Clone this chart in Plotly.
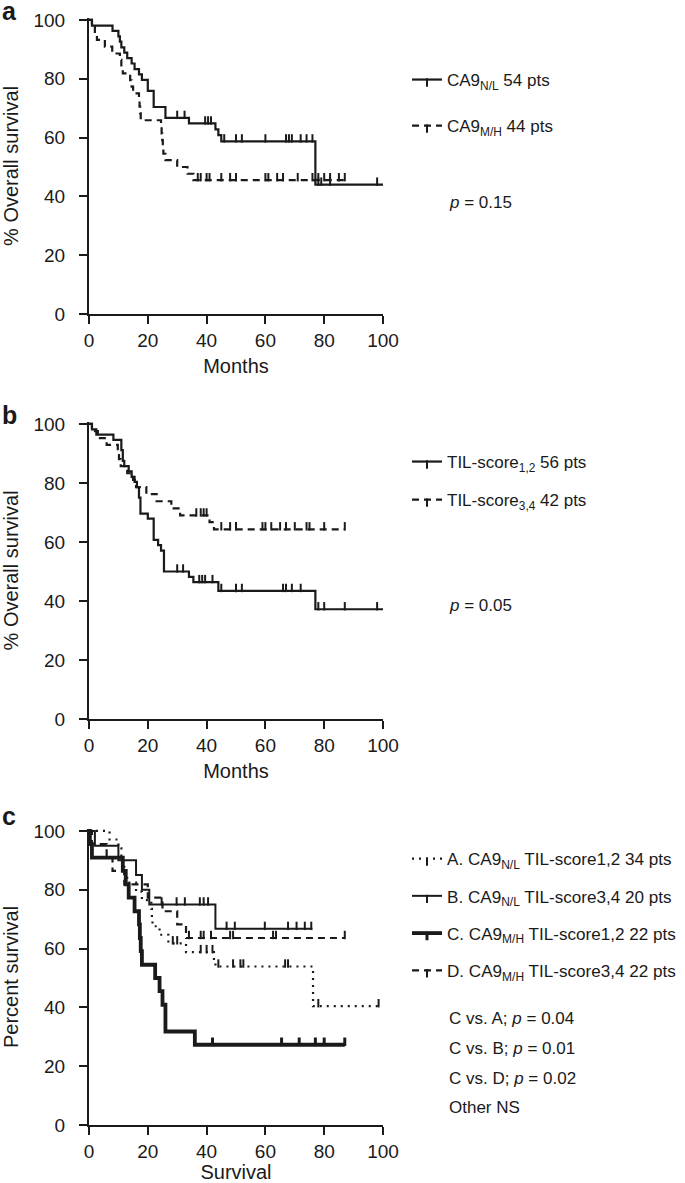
import plotly.graph_objects as go

# ---------------- data ----------------
# Panel a: CA9 expression
a_nl_times = [1, 8, 10, 10.5, 11, 12, 13, 14.5, 15.5, 17, 18, 20, 22, 26, 34, 43, 44, 45, 77]
a_nl_surv = [98.1, 96.3, 94.4, 92.6, 90.7, 88.9, 87.0, 85.2, 83.3, 81.5, 79.6, 75.9, 70.4, 66.7, 64.8, 62.8, 60.8, 58.7, 44.0]
a_nl_end = 100
a_nl_cens = [30, 32.5, 39.5, 40.5, 41.5, 46, 50, 52, 60, 67, 68, 69, 72, 74, 76, 78, 79, 82, 98]

a_mh_times = [1, 2, 2.7, 5.4, 7.9, 10.5, 11, 11.5, 14, 14.5, 15, 17, 17.2, 17.4, 17.6, 24.5, 24.7, 24.9, 25.1, 25.3, 26, 30, 33.5, 35.5]
a_mh_surv = [97.7, 95.5, 93.2, 90.9, 88.6, 86.4, 84.1, 81.8, 79.5, 77.3, 75.0, 72.7, 70.5, 68.2, 65.9, 63.6, 61.4, 59.1, 56.8, 54.5, 52.3, 50.0, 47.7, 45.5]
a_mh_end = 87
a_mh_cens = [37, 38, 40, 41, 45, 48, 50, 60, 61, 64, 66, 71, 76, 78, 80, 82, 85, 87]

# Panel b: TIL score
b_12_times = [1, 2.5, 8.3, 11, 11.5, 12, 13.5, 14.5, 15.5, 16.3, 17, 17.5, 20, 22, 23.5, 24.5, 25.5, 34, 35.5, 44, 77]
b_12_surv = [98.2, 96.4, 94.6, 91.1, 87.5, 85.7, 83.9, 82.1, 80.4, 78.6, 75.0, 69.6, 67.9, 60.7, 58.9, 57.1, 50.0, 48.2, 46.4, 43.4, 37.2]
b_12_end = 100
b_12_cens = [30, 32, 37.5, 38.5, 39.5, 42, 45, 50, 52, 66, 67, 69, 72, 78, 80, 87, 98]

b_34_times = [1, 3, 6, 9.8, 10.2, 10.8, 13, 15, 16, 19.5, 23, 28, 31, 41, 42.5]
b_34_surv = [97.6, 95.2, 92.9, 90.5, 88.1, 85.7, 83.3, 81.0, 78.6, 76.2, 73.8, 71.4, 69.0, 66.7, 64.3]
b_34_end = 87
b_34_cens = [36.5, 38, 39, 40, 45, 48, 50, 59, 60, 62, 65, 67, 70, 74, 75, 80, 87]

# Panel c: combined groups
c_a_times = [7, 10, 11, 11.5, 12, 13, 16, 18, 21.2, 21.4, 21.6, 24, 27, 33, 42.5, 43, 76.2]
c_a_surv = [97.1, 94.1, 91.2, 88.2, 85.3, 82.4, 79.4, 76.5, 73.5, 70.6, 67.6, 64.7, 61.8, 58.8, 55.9, 53.9, 40.4]
c_a_end = 99
c_a_cens = [28.5, 30, 38, 40, 42, 44, 49, 51.5, 52.5, 66.7, 67.7, 78, 98.5]

c_b_times = [2, 10, 16, 18, 20.5, 43]
c_b_surv = [95.0, 90.0, 85.0, 80.0, 75.0, 66.7]
c_b_end = 76
c_b_cens = [24.7, 29.8, 32.6, 37.7, 39, 40.5, 46.8, 49.6, 59.8, 67.7, 70.6, 73.4, 75.6]

c_c_times = [0.3, 1, 11.5, 12.5, 13.5, 15.5, 17, 17.3, 17.6, 18, 22.5, 24, 25, 26, 36]
c_c_surv = [95.5, 90.9, 86.4, 81.8, 77.3, 72.7, 68.2, 63.6, 59.1, 54.5, 50.0, 45.5, 40.9, 31.8, 27.3]
c_c_end = 87
c_c_cens = [42, 65.5, 71.5, 77, 80, 87]

c_d_times = [1, 6, 8, 12, 20, 25, 30, 33]
c_d_surv = [95.5, 90.9, 86.4, 81.8, 77.3, 72.7, 68.2, 63.6]
c_d_end = 87
c_d_cens = [34, 38, 39, 41.5, 48, 49, 62.6, 63.6, 87]

tick_vals = [0, 20, 40, 60, 80, 100]
x_titles = ["Months", "Months", "Survival"]
y_titles = ["% Overall survival", "% Overall survival", "Percent survival"]
panel_letters = ["a", "b", "c"]
p_texts_a = ["<i>p</i> = 0.15"]
p_texts_b = ["<i>p</i> = 0.05"]
p_texts_c = ["C vs. A; <i>p</i> = 0.04", "C vs. B; <i>p</i> = 0.01",
             "C vs. D; <i>p</i> = 0.02", "Other NS"]

# ---------------- styling ----------------
W, H = 685, 1183
INK = "#1a1a1a"
FONT = "Liberation Sans, Arial, Helvetica, sans-serif"
DASH = "7px,5px"
DOT = "2px,5px"

x_dom = [89 / W, 383 / W]
# (top px, bottom px) of each plot area; y range 0..100.7
panels_px = [(17.9, 314), (421.9, 719), (828.9, 1125)]
y_doms = [[1 - b / H, 1 - t / H] for t, b in panels_px]


def step_xy(times, surv, end):
    return [0] + list(times) + [end], [100] + list(surv) + [surv[-1]]


def surv_at(times, surv, t):
    s = 100
    for ti, si in zip(times, surv):
        if ti <= t:
            s = si
    return s


fig = go.Figure()


def add_curve(panel, name, times, surv, end, cens, dash, width, legend):
    xs, ys = step_xy(times, surv, end)
    ax = "" if panel == 1 else str(panel)
    fig.add_trace(go.Scatter(
        x=xs, y=ys, mode="lines", line=dict(color=INK, width=width, dash=dash, shape="hv"),
        xaxis="x" + ax, yaxis="y" + ax, showlegend=False, hoverinfo="skip", legendgroup=name))
    cx, cy = [], []
    for c in cens:
        cx += [c, None]
        cy += [surv_at(times, surv, c), None]
    fig.add_trace(go.Scatter(
        x=cx, y=cy, mode="lines+markers", name=name, legend=legend, legendgroup=name,
        line=dict(color=INK, width=width, dash=dash), connectgaps=False,
        marker=dict(symbol="line-ns", size=6, color=INK, angle=180, standoff=3,
                    line=dict(color=INK, width=max(2, width - 0.8))),
        xaxis="x" + ax, yaxis="y" + ax, hoverinfo="skip"))


add_curve(1, "CA9<sub>N/L</sub> 54 pts", a_nl_times, a_nl_surv, a_nl_end, a_nl_cens, "solid", 2.2, "legend")
add_curve(1, "CA9<sub>M/H</sub> 44 pts", a_mh_times, a_mh_surv, a_mh_end, a_mh_cens, DASH, 2.2, "legend")
add_curve(2, "TIL-score<sub>1,2</sub> 56 pts", b_12_times, b_12_surv, b_12_end, b_12_cens, "solid", 2.2, "legend2")
add_curve(2, "TIL-score<sub>3,4</sub> 42 pts", b_34_times, b_34_surv, b_34_end, b_34_cens, DASH, 2.2, "legend2")
add_curve(3, "A. CA9<sub>N/L</sub> TIL-score1,2 34 pts", c_a_times, c_a_surv, c_a_end, c_a_cens, DOT, 2.2, "legend3")
add_curve(3, "B. CA9<sub>N/L</sub> TIL-score3,4 20 pts", c_b_times, c_b_surv, c_b_end, c_b_cens, "solid", 2.0, "legend3")
add_curve(3, "C. CA9<sub>M/H</sub> TIL-score1,2 22 pts", c_c_times, c_c_surv, c_c_end, c_c_cens, "solid", 3.8, "legend3")
add_curve(3, "D. CA9<sub>M/H</sub> TIL-score3,4 22 pts", c_d_times, c_d_surv, c_d_end, c_d_cens, DASH, 2.2, "legend3")

axis_common = dict(showline=True, linewidth=2, linecolor=INK, ticks="outside", ticklen=8,
                   tickwidth=2, tickcolor=INK, showgrid=False, zeroline=False, automargin=False,
                   tickfont=dict(size=19, color=INK, family=FONT), tickvals=tick_vals)

layout = dict(width=W, height=H, margin=dict(l=0, r=0, t=0, b=0, autoexpand=False),
              paper_bgcolor="white", plot_bgcolor="white",
              font=dict(family=FONT, color=INK))
for i in range(3):
    sfx = "" if i == 0 else str(i + 1)
    layout["xaxis" + sfx] = dict(axis_common, domain=x_dom, range=[0, 100], anchor="y" + sfx,
                                 title=dict(text=x_titles[i], font=dict(size=20, color=INK), standoff=9))
    layout["yaxis" + sfx] = dict(axis_common, domain=y_doms[i], range=[0, 100.7], anchor="x" + sfx,
                                 ticklabelstandoff=10,
                                 title=dict(text=y_titles[i], font=dict(size=20, color=INK), standoff=12))

leg_common = dict(bgcolor="rgba(0,0,0,0)", borderwidth=0, font=dict(size=17, color=INK, family=FONT),
                  xanchor="left", yanchor="top", itemwidth=30, valign="middle")
layout["legend"] = dict(leg_common, x=407 / W, y=1 - 62 / H, tracegroupgap=21)
layout["legend2"] = dict(leg_common, x=407 / W, y=1 - 444 / H, tracegroupgap=13)
layout["legend3"] = dict(leg_common, x=407 / W, y=1 - 841 / H, tracegroupgap=12,
                         font=dict(size=17.1, color=INK, family=FONT))

annotations = []
letter_centers = [11, 415, 816]
for letter, yc in zip(panel_letters, letter_centers):
    annotations.append(dict(text="<b>%s</b>" % letter, x=0, y=1 - yc / H, xref="paper", yref="paper",
                            xanchor="left", yanchor="middle", showarrow=False,
                            font=dict(size=25, color=INK, family=FONT)))
for txt, yc in zip(p_texts_a, [202]):
    annotations.append(dict(text=txt, x=447 / W, y=1 - yc / H, xref="paper", yref="paper",
                            xanchor="left", yanchor="middle", showarrow=False, font=dict(size=17)))
for txt, yc in zip(p_texts_b, [605]):
    annotations.append(dict(text=txt, x=447 / W, y=1 - yc / H, xref="paper", yref="paper",
                            xanchor="left", yanchor="middle", showarrow=False, font=dict(size=17)))
for txt, yc in zip(p_texts_c, [1018, 1048, 1078, 1107]):
    annotations.append(dict(text=txt, x=447 / W, y=1 - yc / H, xref="paper", yref="paper",
                            xanchor="left", yanchor="middle", showarrow=False, font=dict(size=17)))
layout["annotations"] = annotations

fig.update_layout(**layout)
fig.write_html("out.html", config={"displayModeBar": False},
               post_script="document.body.style.margin='0px';")
